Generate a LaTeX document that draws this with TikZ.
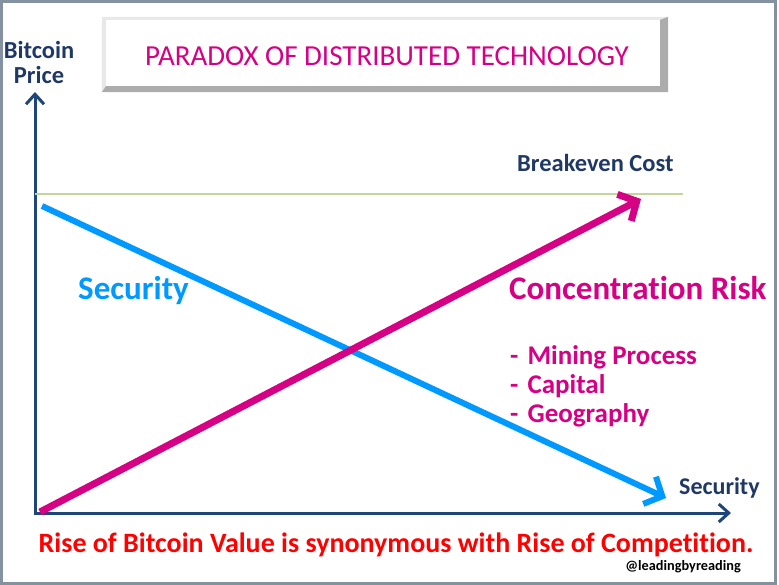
\documentclass[tikz,border=0pt]{standalone}
\usepackage{fontspec}
\setmainfont{Carlito}[Ligatures=NoCommon]
\usetikzlibrary{calc,arrows.meta,positioning}
\usepackage{xcolor}

\definecolor{navy}{RGB}{31,56,100}
\definecolor{axisblue}{RGB}{31,70,120}
\definecolor{magenta}{RGB}{214,0,132}
\definecolor{skyblue}{RGB}{0,153,255}
\definecolor{frame}{RGB}{132,145,160}
\definecolor{breakgreen}{RGB}{195,214,155}

\tikzset{
    axis/.style={line width=3pt, axisblue, {Straight Barb[length=10pt,width=18pt]}-{Straight Barb[length=10pt,width=18pt]}},
    trend/.style={line width=#1, -{Straight Barb[length=14pt,width=30pt]}},
    lbl/.style={inner sep=0pt, font=\bfseries\fontsize{24.5}{29}\selectfont},
}

\begin{document}
\begin{tikzpicture}[x=1pt,y=-1pt]
    \useasboundingbox (0,0) rectangle (779,585);
    \draw[line width=2.5pt, frame] (1.5,1.5) rectangle (775.5,583.5);

    \node[fill=white, minimum width=554pt, minimum height=66pt, inner sep=0pt] (title) at (383,53) {};
    \fill[gray!18] ($(title.north west)+(-4,-3)$) -- ($(title.north east)+(8,-3)$) -- (title.north east) -- (title.north west) -- (title.south west) -- ($(title.south west)+(-4,6)$) -- cycle;
    \fill[gray!65] ($(title.north east)+(8,-3)$) -- ($(title.south east)+(8,6)$) -- ($(title.south west)+(-4,6)$) -- (title.south west) -- (title.south east) -- (title.north east) -- cycle;
    \node[text=magenta, font=\fontsize{29}{32}\selectfont] at (387,56) {PARADOX OF DISTRIBUTED TECHNOLOGY};

    \coordinate (O) at (35,513);
    \coordinate (ytip) at (35,92);
    \coordinate (xtip) at (731,513);
    \draw[axis] (ytip) -- (O) -- (xtip);

    \coordinate (be1) at (35,194);
    \coordinate (be2) at (683,194);
    \draw[breakgreen, line width=1.3pt] (be1) -- (be2);

    \coordinate (secA) at (42,206);
    \coordinate (secB) at (666,498);
    \draw[trend=6pt, skyblue] (secA) -- (secB);

    \coordinate (conA) at (40,512);
    \coordinate (conB) at (641,199);
    \draw[trend=7pt, magenta] (conA) -- (conB);

    \node[lbl, navy, align=center, font=\bfseries\fontsize{24.5}{25}\selectfont] (ylabel) at (39,62) {Bitcoin\\Price};
    \node[lbl, navy, anchor=west] (beLabel) at (517,163) {Breakeven Cost};
    \node[lbl, skyblue, anchor=west, font=\bfseries\fontsize{33}{36}\selectfont] (secLabel) at (78,291) {Security};
    \node[lbl, magenta, anchor=west, font=\bfseries\fontsize{33}{36}\selectfont] (conLabel) at (509,288) {Concentration Risk};
    \node[lbl, magenta, anchor=north west, align=left, font=\bfseries\fontsize{27}{29}\selectfont] (risks) at (510,345) {-\hspace{3pt} Mining Process\\-\hspace{3pt} Capital\\-\hspace{3pt} Geography};
    \node[lbl, navy, anchor=west, font=\bfseries\fontsize{24}{28}\selectfont] (xlabel) at (679,488) {Security};
    \node[lbl, red, font=\bfseries\fontsize{28}{32}\selectfont] (summary) at (396,545) {Rise of Bitcoin Value is synonymous with Rise of Competition.};
    \node[lbl, black, anchor=east, font=\bfseries\fontsize{14.3}{16}\selectfont] (handle) at (741,567) {@leadingbyreading};
\end{tikzpicture}
\end{document}
